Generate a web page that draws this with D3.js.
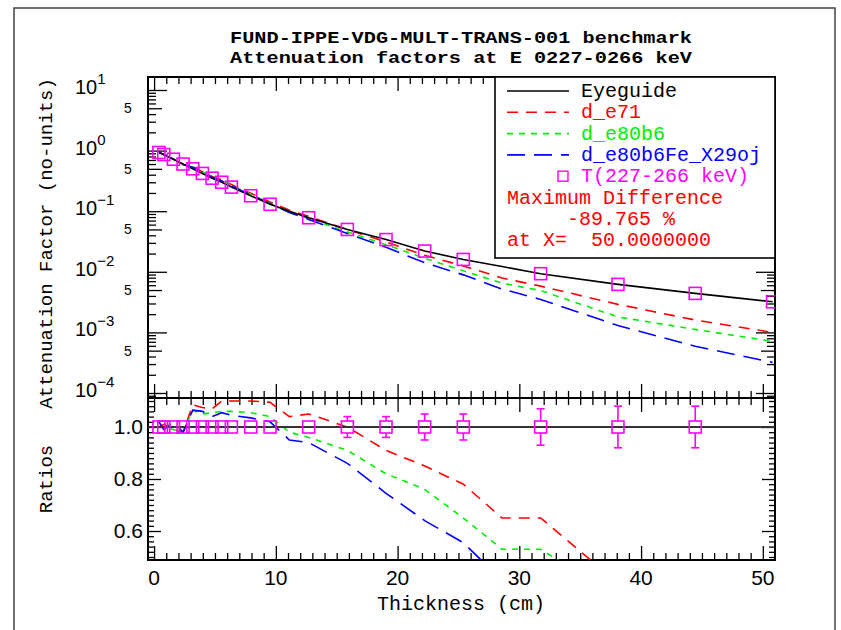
<!DOCTYPE html>
<html>
<head>
<meta charset="utf-8">
<script src="https://cdn.jsdelivr.net/npm/d3@7"></script>
<style>
  html, body { margin: 0; padding: 0; background: #fff; }
  svg { display: block; }
  text { white-space: pre; }
</style>
</head>
<body>
<svg id="chart" width="841" height="630"></svg>
<script>
// ---- data ---------------------------------------------------------------
const titleLines = ["FUND-IPPE-VDG-MULT-TRANS-001 benchmark",
                    "Attenuation factors at E 0227-0266 keV"];

// measured attenuation factors T(227-266 keV)
const tX   = [0.397, 0.794, 1.588, 2.381, 3.175, 3.969, 4.763, 5.556, 6.35, 7.938,
              9.525, 12.7, 15.875, 19.05, 22.225, 25.4, 31.75, 38.1, 44.45, 50.8];
const tVal = [0.93, 0.86, 0.72, 0.60, 0.50, 0.42, 0.35, 0.30, 0.25, 0.18,
              0.13, 0.078, 0.050, 0.034, 0.022, 0.016, 0.0093, 0.0062, 0.0044, 0.0032];
// relative uncertainty shown in the ratio panel (null: not plotted there)
const tRelErr = [0.01, 0.01, 0.01, 0.01, 0.01, 0.01, 0.01, 0.01, 0.01, 0.01,
                 0.015, 0.02, 0.04, 0.04, 0.05, 0.05, 0.07, 0.08, 0.08, null];

// calculation grid
const cX = [0.397, 0.794, 1.588, 2.381, 3.175, 3.969, 4.763, 5.556, 6.35, 7.938, 9.525,
            11.1125, 12.7, 15.875, 19.05, 22.225, 25.4, 28.575, 31.75, 38.1, 44.45, 50.8];
const eyeguide = [0.93, 0.86, 0.72, 0.60, 0.50, 0.42, 0.35, 0.30, 0.25, 0.18, 0.13,
                  0.10, 0.078, 0.050, 0.034, 0.022, 0.016, 0.0122, 0.0093, 0.0062, 0.0044, 0.0032];
const dE71 = [0.93, 0.87, 0.71, 0.59, 0.54, 0.45, 0.375, 0.33, 0.275, 0.198, 0.142,
              0.104, 0.082, 0.050, 0.031, 0.0187, 0.0125, 0.0079, 0.0058, 0.0029, 0.0016, 0.0010];
const dE80b6 = [0.93, 0.86, 0.71, 0.59, 0.53, 0.44, 0.37, 0.32, 0.265, 0.19, 0.135,
                0.098, 0.075, 0.0455, 0.028, 0.0167, 0.0104, 0.0065, 0.0049, 0.0018, 0.00112, 0.00071];
const dE80b6Fe = [0.95, 0.85, 0.73, 0.59, 0.53, 0.445, 0.365, 0.317, 0.26, 0.186, 0.133,
                  0.095, 0.073, 0.043, 0.0253, 0.0141, 0.0089, 0.0052, 0.0035, 0.0013, 0.00059, 0.00032];

// ratios calculation / eyeguide
const rE71 = [1.0, 1.01, 0.99, 0.98, 1.085, 1.075, 1.07, 1.10, 1.10, 1.10, 1.095,
              1.04, 1.05, 1.0, 0.91, 0.85, 0.78, 0.65, 0.65, 0.40, 0.37, 0.31];
const rE80b6 = [1.0, 1.0, 0.99, 0.98, 1.065, 1.05, 1.055, 1.06, 1.06, 1.055, 1.04,
                0.98, 0.96, 0.91, 0.82, 0.76, 0.65, 0.53, 0.53, 0.34, 0.25, 0.22];
const rE80b6Fe = [1.02, 0.99, 1.02, 0.98, 1.065, 1.06, 1.04, 1.055, 1.045, 1.035, 1.02,
                  0.95, 0.94, 0.86, 0.745, 0.64, 0.555, 0.41, 0.38, 0.21, 0.13, 0.10];

const xTickLabels = [0, 10, 20, 30, 40, 50];
const decadeExps = [1, 0, -1, -2, -3, -4];
const ratioTickLabels = [0.6, 0.8, 1.0];

const legendItems = [
  {name: "Eyeguide", color: "#000000", dash: null},
  {name: "d_e71", color: "#ff0000", dash: "11,8"},
  {name: "d_e80b6", color: "#00ee00", dash: "6,6"},
  {name: "d_e80b6Fe_X29oj", color: "#0000ff", dash: "18,9"}
];
const maxDiffLines = ["Maximum Difference", "     -89.765 %", "at X=  50.0000000"];

// ---- layout -------------------------------------------------------------
const svg = d3.select("#chart");
const L = 148, R = 775, TOP = 77, MID = 398, BOT = 560;
const monoFont = "'Liberation Mono', 'DejaVu Sans Mono', monospace";
const sansFont = "'Liberation Sans', Arial, sans-serif";

const x = d3.scaleLinear().domain([-0.5, 51]).range([L, R]);
const yUp = d3.scaleLog().domain([Math.pow(10, -4.0825), Math.pow(10, 1.2145)]).range([MID, TOP]);
const yLo = d3.scaleLinear().domain([0.4885, 1.1115]).range([BOT, MID]);

// outer page frame
svg.append("rect").attr("x", 14).attr("y", 8).attr("width", 821).attr("height", 640)
  .attr("fill", "none").attr("stroke", "#444").attr("stroke-width", 1.5);

// title
svg.selectAll("text.title").data(titleLines).join("text")
  .attr("class", "title")
  .attr("x", 461).attr("y", (d, i) => 43 + i * 20)
  .attr("text-anchor", "middle")
  .attr("font-family", monoFont).attr("font-weight", "bold").attr("font-size", 17)
  .attr("textLength", 462).attr("lengthAdjust", "spacingAndGlyphs")
  .attr("fill", "#000").text(d => d);

// clip paths
const defs = svg.append("defs");
defs.append("clipPath").attr("id", "clipUp").append("rect")
  .attr("x", L).attr("y", TOP).attr("width", R - L).attr("height", MID - TOP);
defs.append("clipPath").attr("id", "clipLo").append("rect")
  .attr("x", L).attr("y", MID).attr("width", R - L).attr("height", BOT - MID);

// ---- ticks ---------------------------------------------------------------
function styleAxis(g) {
  g.select(".domain").remove();
  g.selectAll(".tick line").attr("stroke", "#000").attr("stroke-width", 1.3);
  g.selectAll(".tick text").remove();
}
const minorX = d3.range(0, 51, 1).filter(v => v % 10 !== 0);
const majorX = xTickLabels;

function xTicks(y, dir) {
  // dir = +1 ticks point down into a panel, -1 point up
  const mk = (vals, len) => {
    const ax = dir > 0 ? d3.axisTop(x) : d3.axisBottom(x);
    svg.append("g").attr("transform", `translate(0,${y})`)
      .call(ax.tickValues(vals).tickSizeInner(-len).tickSizeOuter(0).tickFormat(""))
      .call(styleAxis);
  };
  mk(minorX, 7);
  mk(majorX, 14);
}
xTicks(TOP, 1);
xTicks(MID, -1);
xTicks(MID, 1);
xTicks(BOT, -1);

// log axis ticks (left and right)
const decades = d3.range(-4, 2).map(e => Math.pow(10, e));
const fives = d3.range(-4, 1).map(e => 5 * Math.pow(10, e));
const minorLog = [];
d3.range(-5, 1).forEach(e => [2, 3, 4, 6, 7, 8, 9].forEach(m => {
  const v = m * Math.pow(10, e);
  if (v > yUp.domain()[0] && v < yUp.domain()[1]) minorLog.push(v);
}));
function yTicks(scale, sets) {
  sets.forEach(([vals, len]) => {
    svg.append("g").attr("transform", `translate(${L},0)`)
      .call(d3.axisLeft(scale).tickValues(vals).tickSizeInner(-len).tickSizeOuter(0).tickFormat(""))
      .call(styleAxis);
    svg.append("g").attr("transform", `translate(${R},0)`)
      .call(d3.axisRight(scale).tickValues(vals).tickSizeInner(-len).tickSizeOuter(0).tickFormat(""))
      .call(styleAxis);
  });
}
yTicks(yUp, [[minorLog, 8], [fives, 14], [decades, 19]]);
const minorRatio = d3.range(0.5, 1.11, 0.02).map(v => +v.toFixed(2))
  .filter(v => ![0.6, 0.8, 1.0].includes(v));
yTicks(yLo, [[minorRatio, 6], [ratioTickLabels, 13]]);

// panel frames
[[TOP, MID], [MID, BOT]].forEach(([a, b]) => {
  svg.append("rect").attr("x", L).attr("y", a).attr("width", R - L).attr("height", b - a)
    .attr("fill", "none").attr("stroke", "#000").attr("stroke-width", 2);
});

// ---- tick labels ------------------------------------------------------------
svg.selectAll("text.xl").data(xTickLabels).join("text")
  .attr("x", d => x(d)).attr("y", 585)
  .attr("text-anchor", "middle").attr("font-family", sansFont).attr("font-size", 21)
  .attr("fill", "#000").text(d => d);

decadeExps.forEach(e => {
  const t = svg.append("text").attr("x", 75).attr("y", yUp(Math.pow(10, e)) + 4)
    .attr("font-family", sansFont).attr("font-size", 20).attr("fill", "#000");
  t.append("tspan").text("10");
  t.append("tspan").attr("dy", -10).attr("font-size", 15).text(e < 0 ? "\u2212" + (-e) : String(e));
});
svg.selectAll("text.five").data(fives).join("text")
  .attr("x", 128).attr("y", d => yUp(d) + 5)
  .attr("text-anchor", "middle").attr("font-family", sansFont).attr("font-size", 14)
  .attr("fill", "#000").text("5");
svg.selectAll("text.rl").data(ratioTickLabels).join("text")
  .attr("x", 143).attr("y", d => yLo(d) + 7)
  .attr("text-anchor", "end").attr("font-family", sansFont).attr("font-size", 21)
  .attr("fill", "#000").text(d => d.toFixed(1));

// axis titles
svg.append("text").attr("x", 461).attr("y", 610).attr("text-anchor", "middle")
  .attr("font-family", monoFont).attr("font-size", 20).attr("fill", "#000").text("Thickness (cm)");
svg.append("text").attr("transform", `translate(52,${(TOP + MID) / 2 + 6}) rotate(-90)`)
  .attr("text-anchor", "middle").attr("font-family", monoFont).attr("font-size", 19)
  .attr("fill", "#000").text("Attenuation Factor (no-units)");
svg.append("text").attr("transform", `translate(52,${(MID + BOT) / 2}) rotate(-90)`)
  .attr("text-anchor", "middle").attr("font-family", monoFont).attr("font-size", 19)
  .attr("fill", "#000").text("Ratios");

// ---- upper panel curves -------------------------------------------------
const up = svg.append("g").attr("clip-path", "url(#clipUp)");
const lineUp = d3.line().x(d => x(d[0])).y(d => yUp(d[1]));
const upperSeries = [
  {vals: eyeguide, item: legendItems[0]},
  {vals: dE71, item: legendItems[1]},
  {vals: dE80b6, item: legendItems[2]},
  {vals: dE80b6Fe, item: legendItems[3]}
];
upperSeries.slice(1).concat([upperSeries[0]]).forEach(s => {
  up.append("path").datum(d3.zip(cX, s.vals)).attr("d", lineUp)
    .attr("fill", "none").attr("stroke", s.item.color).attr("stroke-width", 1.6)
    .attr("stroke-dasharray", s.item.dash);
});
const SQ = 12;
up.selectAll("rect.tpt").data(d3.zip(tX, tVal)).join("rect")
  .attr("x", d => x(d[0]) - SQ / 2).attr("y", d => yUp(d[1]) - SQ / 2)
  .attr("width", SQ).attr("height", SQ)
  .attr("fill", "none").attr("stroke", "#ff00ff").attr("stroke-width", 1.6);

// ---- lower panel (ratios) -------------------------------------------------
const lo = svg.append("g").attr("clip-path", "url(#clipLo)");
const lineLo = d3.line().x(d => x(d[0])).y(d => yLo(d[1]));
[[rE71, legendItems[1]], [rE80b6, legendItems[2]], [rE80b6Fe, legendItems[3]]].forEach(([vals, item]) => {
  lo.append("path").datum(d3.zip(cX, vals)).attr("d", lineLo)
    .attr("fill", "none").attr("stroke", item.color).attr("stroke-width", 1.6)
    .attr("stroke-dasharray", item.dash);
});
lo.append("line").attr("x1", L).attr("x2", R).attr("y1", yLo(1)).attr("y2", yLo(1))
  .attr("stroke", "#333").attr("stroke-width", 2);

const ratioPts = d3.zip(tX, tRelErr).filter(d => d[1] !== null);
const pts = lo.selectAll("g.rp").data(ratioPts).join("g");
pts.filter(d => d[1] * (yLo(1) - yLo(2)) > SQ / 2).each(function (d) {
  const g = d3.select(this), cx = x(d[0]);
  const y1 = yLo(1 + d[1]), y2 = yLo(1 - d[1]);
  g.append("line").attr("x1", cx).attr("x2", cx).attr("y1", y1).attr("y2", yLo(1) - SQ / 2)
    .attr("stroke", "#ff00ff").attr("stroke-width", 1.6);
  g.append("line").attr("x1", cx).attr("x2", cx).attr("y1", yLo(1) + SQ / 2).attr("y2", y2)
    .attr("stroke", "#ff00ff").attr("stroke-width", 1.6);
  [y1, y2].forEach(yy => g.append("line").attr("x1", cx - 4).attr("x2", cx + 4)
    .attr("y1", yy).attr("y2", yy).attr("stroke", "#ff00ff").attr("stroke-width", 1.6));
});
pts.append("rect")
  .attr("x", d => x(d[0]) - SQ / 2).attr("y", yLo(1) - SQ / 2)
  .attr("width", SQ).attr("height", SQ)
  .attr("fill", "none").attr("stroke", "#ff00ff").attr("stroke-width", 1.6);

// ---- legend --------------------------------------------------------------
const lg = svg.append("g");
lg.append("rect").attr("x", 495).attr("y", TOP).attr("width", R - 495).attr("height", 181)
  .attr("fill", "#fff").attr("stroke", "#000").attr("stroke-width", 1.6);
const rowY = i => 91 + i * 21.3;
legendItems.forEach((it, i) => {
  lg.append("line").attr("x1", 507).attr("x2", 569).attr("y1", rowY(i)).attr("y2", rowY(i))
    .attr("stroke", it.color).attr("stroke-width", 1.6).attr("stroke-dasharray", it.dash);
  lg.append("text").attr("x", 581).attr("y", rowY(i) + 6)
    .attr("font-family", monoFont).attr("font-size", 20)
    .attr("fill", it.color === "#000000" ? "#000" : it.color).text(it.name);
});
lg.append("rect").attr("x", 558).attr("y", rowY(4) - 5).attr("width", 10).attr("height", 10)
  .attr("fill", "none").attr("stroke", "#ff00ff").attr("stroke-width", 1.4);
lg.append("text").attr("x", 581).attr("y", rowY(4) + 6)
  .attr("font-family", monoFont).attr("font-size", 20).attr("fill", "#ff00ff").text("T(227-266 keV)");
maxDiffLines.forEach((s, i) => {
  lg.append("text").attr("x", 507).attr("y", rowY(5 + i) + 6)
    .attr("font-family", monoFont).attr("font-size", 20).attr("fill", "#ff0000").text(s);
});
</script>
</body>
</html>
